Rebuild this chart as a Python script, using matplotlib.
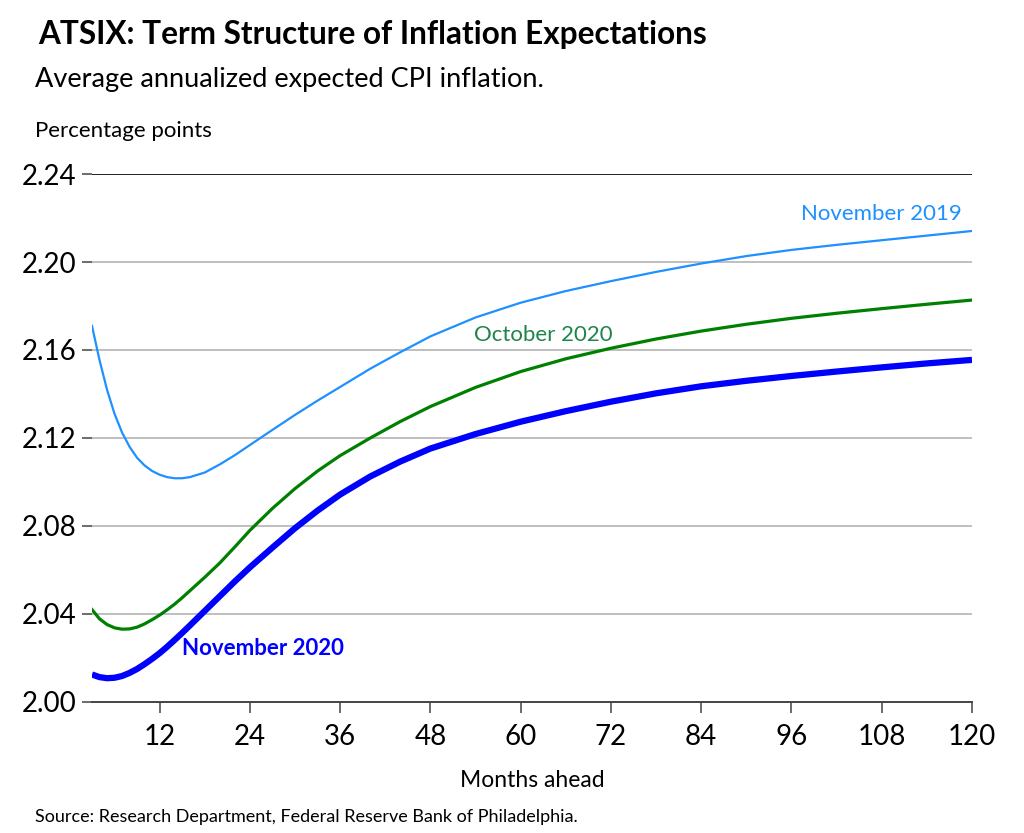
import matplotlib
matplotlib.use("Agg")
import matplotlib.pyplot as plt

plt.rcParams['font.family'] = ['Lato', 'DejaVu Sans']

# months ahead and readings (percentage points) off the reference chart
months = [3, 4, 5, 6, 7, 8, 9, 10, 11, 12, 13, 14, 15, 16,
          18, 20, 22, 24, 27, 30, 33, 36, 40, 44, 48,
          54, 60, 66, 72, 78, 84, 90, 96, 102, 108, 114, 120]

nov_2019 = [2.1710, 2.1555, 2.1420, 2.1310, 2.1225, 2.1160, 2.1110, 2.1075, 2.1050,
            2.1033, 2.1022, 2.1017, 2.1017, 2.1022,
            2.1043, 2.1080, 2.1122, 2.1168, 2.1237, 2.1305, 2.1370, 2.1432,
            2.1515, 2.1590, 2.1662,
            2.1748, 2.1815, 2.1868, 2.1913, 2.1955, 2.1993, 2.2027, 2.2055,
            2.2078, 2.2099, 2.2120, 2.2141]

oct_2020 = [2.0420, 2.0378, 2.0352, 2.0337, 2.0331, 2.0332, 2.0340, 2.0355, 2.0374,
            2.0395, 2.0419, 2.0445, 2.0474, 2.0505,
            2.0567, 2.0632, 2.0705, 2.0780, 2.0880, 2.0970, 2.1050, 2.1120,
            2.1200, 2.1275, 2.1343,
            2.1430, 2.1502, 2.1560, 2.1608, 2.1650, 2.1686, 2.1717, 2.1744,
            2.1767, 2.1788, 2.1808, 2.1827]

nov_2020 = [2.0125, 2.0113, 2.0108, 2.0110, 2.0118, 2.0132, 2.0150, 2.0172, 2.0196,
            2.0222, 2.0251, 2.0282, 2.0314, 2.0347,
            2.0414, 2.0481, 2.0548, 2.0612, 2.0702, 2.0790, 2.0870, 2.0943,
            2.1025, 2.1093, 2.1152,
            2.1218, 2.1274, 2.1322, 2.1365, 2.1403, 2.1435, 2.1460, 2.1482,
            2.1502, 2.1521, 2.1539, 2.1555]

y_ticks = [2.00, 2.04, 2.08, 2.12, 2.16, 2.20, 2.24]
x_ticks = [12, 24, 36, 48, 60, 72, 84, 96, 108, 120]

fig = plt.figure(figsize=(10.24, 8.33), dpi=100)
ax = fig.add_axes([0.0898, 0.1573, 0.8594, 0.6338])

for y in y_ticks[1:-1]:
    ax.axhline(y, color='#BFBFBF', lw=1.4, zorder=1)
ax.axhline(2.24, color='#222222', lw=1.4, zorder=1)

ax.plot(months, nov_2019, color='#1E90FF', lw=1.6, zorder=3)
ax.plot(months, oct_2020, color='#008000', lw=2.3, zorder=3)
ax.plot(months, nov_2020, color='#0000FF', lw=4.5, zorder=4, solid_capstyle='butt')

ax.set_xlim(3, 120)
ax.set_ylim(2.00, 2.24)
ax.set_xticks(x_ticks)
ax.set_yticks(y_ticks)
ax.set_yticklabels([f"{v:.2f}" for v in y_ticks])

for s in ['top', 'right', 'left']:
    ax.spines[s].set_visible(False)
ax.spines['bottom'].set_color('#444444')
ax.spines['bottom'].set_linewidth(1.4)
ax.tick_params(axis='x', direction='out', length=8, width=1.1, color='#444444',
               labelsize=20, pad=8)
ax.tick_params(axis='y', direction='out', length=7, width=1.1, color='#444444',
               labelsize=20, pad=4)

# series labels
ax.text(118.7, 2.2218, "November 2019", color='#1E90FF', fontsize=16,
        ha='right', va='center')
ax.text(63, 2.1668, "October 2020", color='#1E8449', fontsize=16,
        ha='center', va='center')
ax.text(25.7, 2.0241, "November 2020", color='#0000FF', fontsize=16,
        fontweight='bold', ha='center', va='center')

ax.set_xlabel("Months ahead", fontsize=16.5, labelpad=14)

fig.text(0.037, 0.958, "ATSIX: Term Structure of Inflation Expectations",
         fontsize=22.7, fontweight='bold', va='center')
fig.text(0.034, 0.905, "Average annualized expected CPI inflation.",
         fontsize=19.5, va='center')
fig.text(0.034, 0.843, "Percentage points", fontsize=16, va='center')
fig.text(0.034, 0.019, "Source: Research Department, Federal Reserve Bank of Philadelphia.",
         fontsize=13, va='center')

fig.savefig("out.png", dpi=100)
